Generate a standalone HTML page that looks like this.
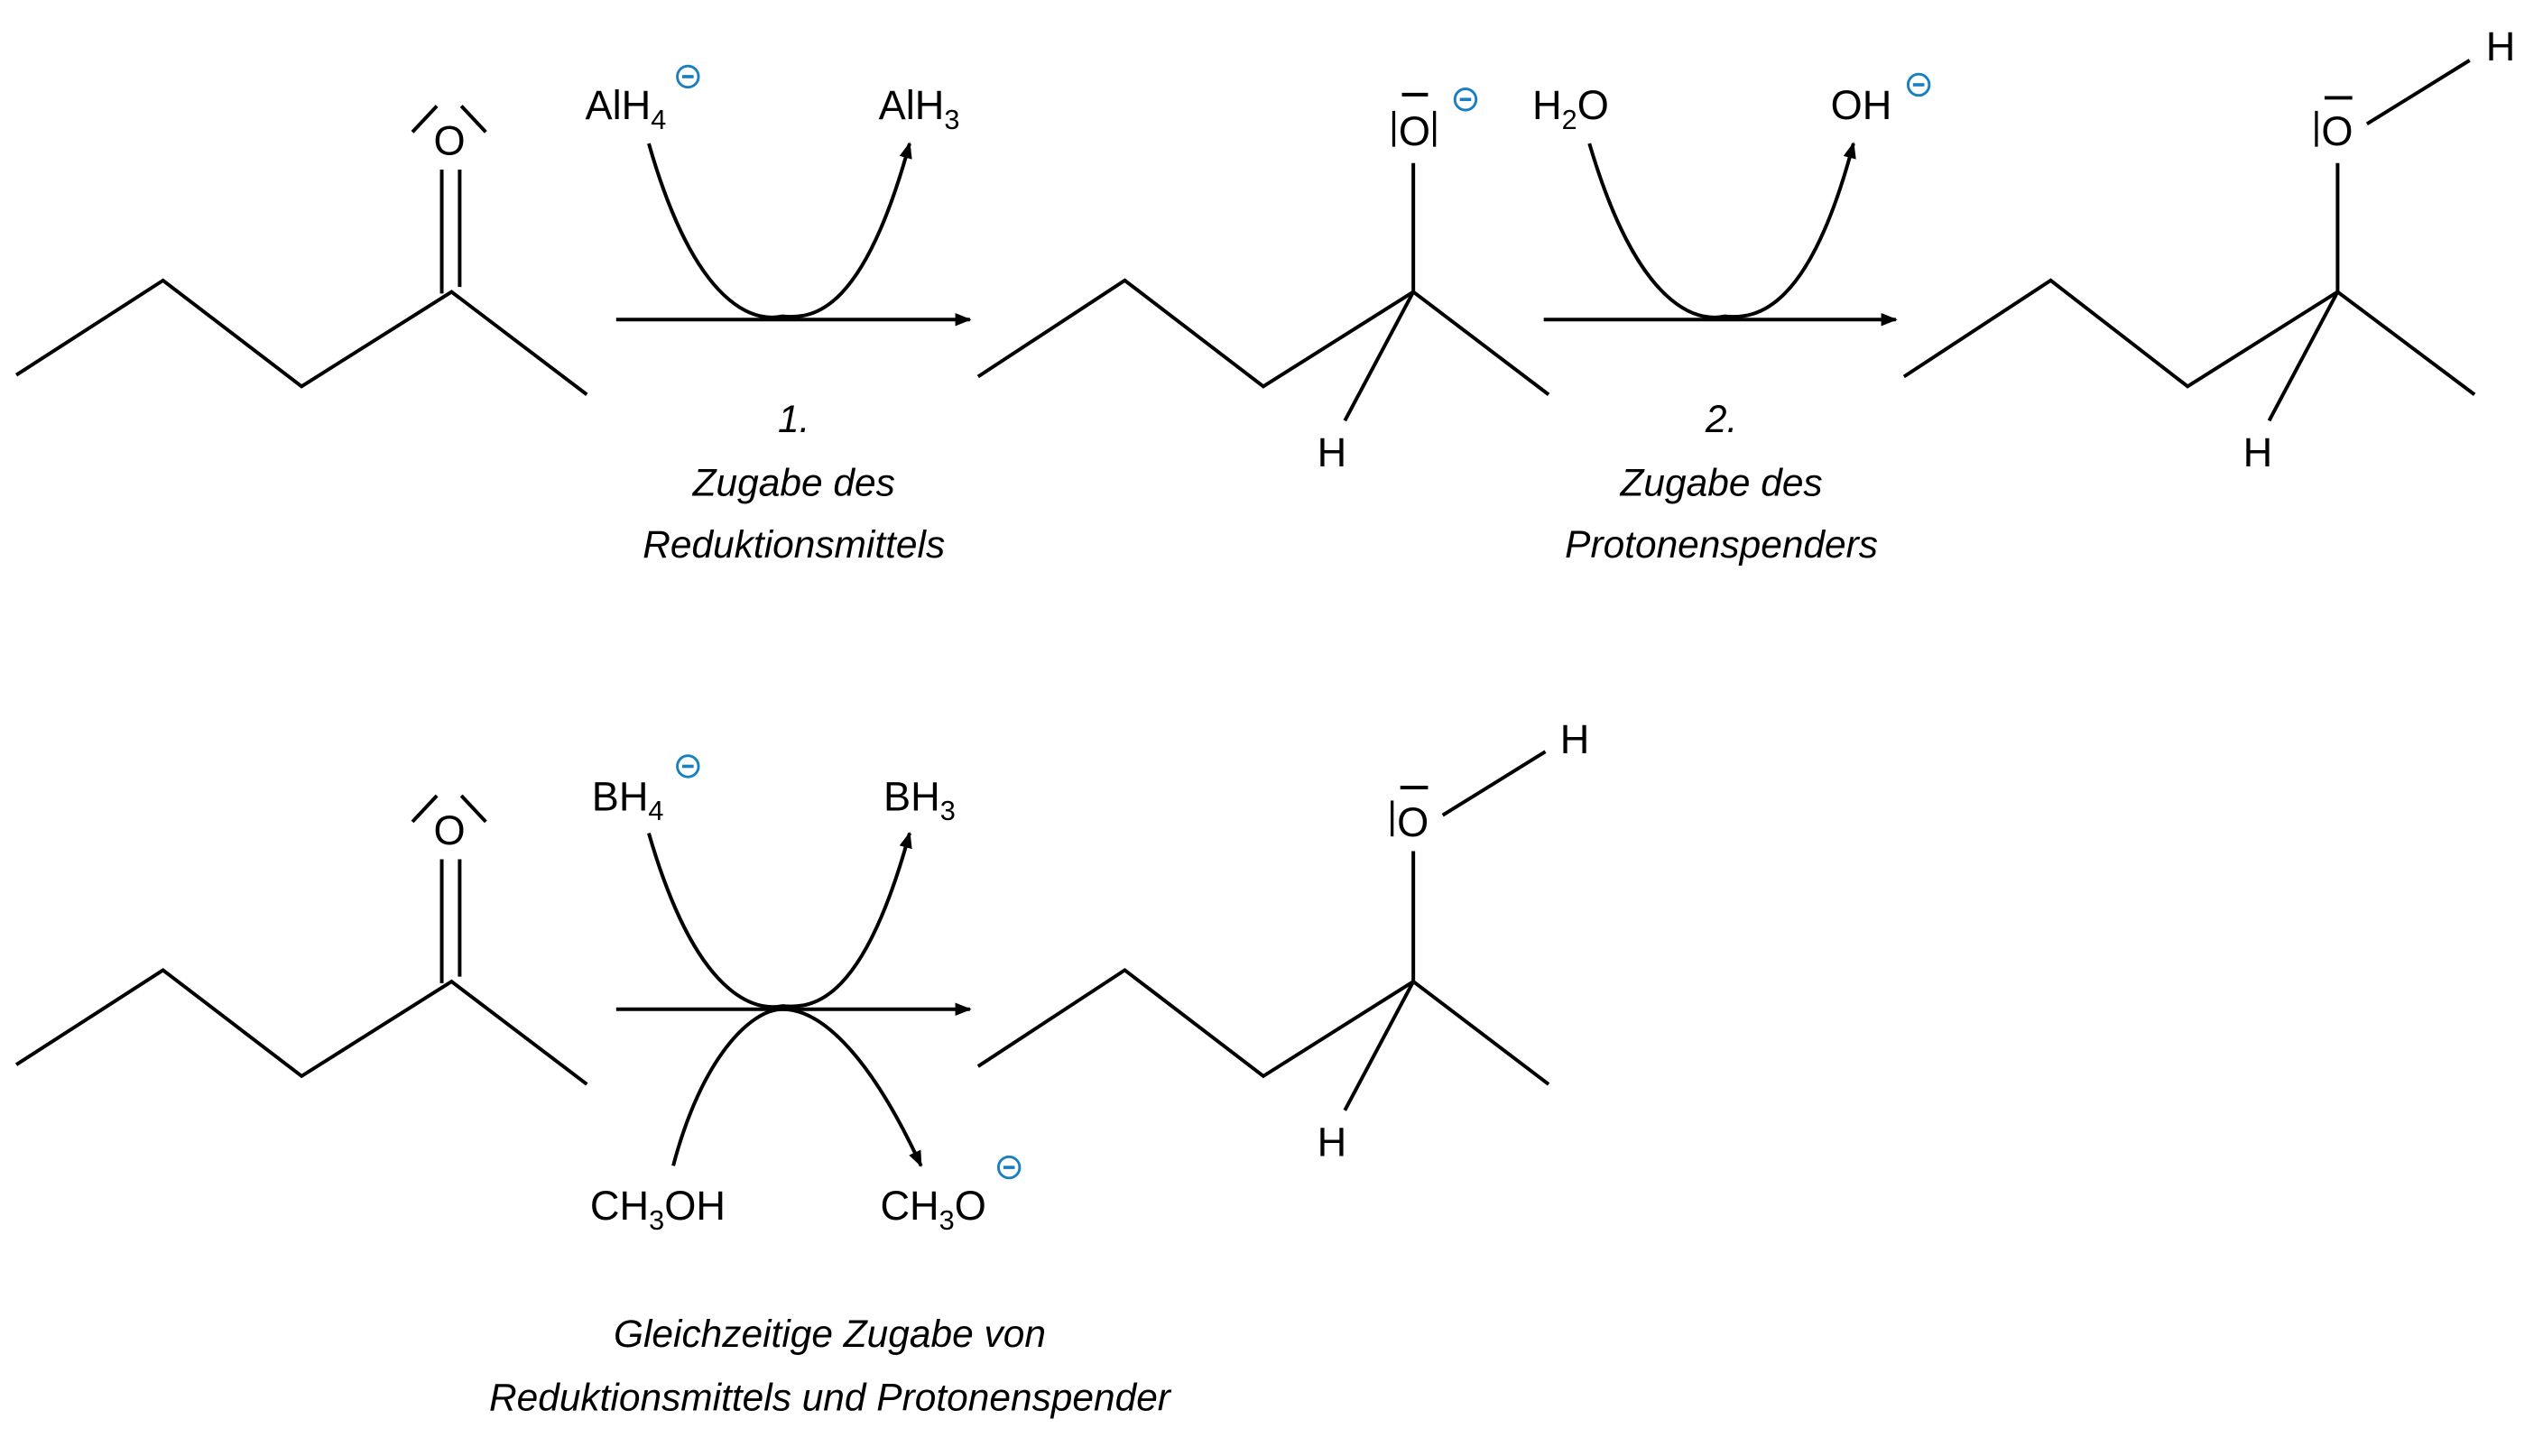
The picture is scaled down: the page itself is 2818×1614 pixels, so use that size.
<!DOCTYPE html>
<html><head><meta charset="utf-8">
<style>
html,body{margin:0;padding:0;background:#fff;}
svg{display:block;}
text{font-family:"Liberation Sans",sans-serif;fill:#000;}
.it{font-style:italic;font-size:23.5px;text-anchor:middle;}
.at{font-size:25px;}
.sub{font-size:17px;}
.min{fill:none;stroke:#1a7fc1;stroke-width:1.6;}
</style></head><body>
<svg width="2818" height="1614" viewBox="0 0 1560 893" preserveAspectRatio="none" xmlns="http://www.w3.org/2000/svg">
<defs>
<marker id="ah" markerWidth="10" markerHeight="8" refX="9" refY="4" orient="auto" markerUnits="userSpaceOnUse">
<path d="M0,0 L10,4 L0,8 z" fill="#000"/>
</marker>
<g id="minus"><circle cx="0" cy="0" r="6.5" class="min"/><line x1="-3.5" y1="0" x2="3.5" y2="0" stroke="#1a7fc1" stroke-width="2"/></g>
</defs>
<g fill="none" stroke="#000" stroke-width="2.2">
<polyline points="10,230 100,172 185,237 277,179 360,242"/>
<line x1="271" y1="104" x2="271" y2="180"/><line x1="282" y1="104" x2="282" y2="176"/>
<line x1="253" y1="81" x2="268" y2="65"/><line x1="283" y1="65" x2="298" y2="81"/>
<line x1="378" y1="196" x2="595" y2="196" marker-end="url(#ah)"/>
<path d="M398,88 C430,200 470,196 480,194 C500,196 530,190 558,88" marker-end="url(#ah)"/>
<polyline points="600,231 690,172 775,237 867,179 950,242"/>
<line x1="867" y1="179" x2="867" y2="100"/>
<line x1="867" y1="179" x2="825" y2="258"/>
<line x1="860" y1="58" x2="876" y2="58"/>
<line x1="855" y1="68" x2="855" y2="90" stroke-width="1.8"/><line x1="880" y1="68" x2="880" y2="90" stroke-width="1.8"/>
<line x1="947" y1="196" x2="1163" y2="196" marker-end="url(#ah)"/>
<path d="M975,88 C1008,200 1048,196 1058,194 C1078,196 1110,190 1137,88" marker-end="url(#ah)"/>
<polyline points="1168,231 1258,172 1342,237 1434,179 1518,242"/>
<line x1="1434" y1="179" x2="1434" y2="100"/>
<line x1="1434" y1="179" x2="1392" y2="258"/>
<line x1="1426" y1="60" x2="1443" y2="60"/>
<line x1="1421" y1="68" x2="1421" y2="90" stroke-width="1.8"/>
<line x1="1452" y1="76" x2="1515" y2="37"/>
<polyline points="10,653 100,595 185,660 277,602 360,665"/>
<line x1="271" y1="527" x2="271" y2="603"/><line x1="282" y1="527" x2="282" y2="599"/>
<line x1="253" y1="504" x2="268" y2="488"/><line x1="283" y1="488" x2="298" y2="504"/>
<line x1="378" y1="619" x2="595" y2="619" marker-end="url(#ah)"/>
<path d="M398,511 C430,622 470,619 480,617 C500,619 530,613 558,511" marker-end="url(#ah)"/>
<path d="M413,715 C430,650 460,619 480,619 C505,619 535,650 565,715" marker-end="url(#ah)"/>
<polyline points="600,654 690,595 775,660 867,602 950,665"/>
<line x1="867" y1="602" x2="867" y2="522"/>
<line x1="867" y1="602" x2="825" y2="681"/>
<line x1="859" y1="483" x2="876" y2="483"/>
<line x1="854" y1="491" x2="854" y2="513" stroke-width="1.8"/>
<line x1="885" y1="500" x2="948" y2="461"/>
</g>
<text class="at" x="266" y="95">O</text>
<text class="at" x="359" y="73">AlH<tspan class="sub" dy="6">4</tspan></text>
<use href="#minus" x="422" y="47"/>
<text class="at" x="539" y="73">AlH<tspan class="sub" dy="6">3</tspan></text>
<text class="it" x="487" y="265">1.</text>
<text class="it" x="487" y="304">Zugabe des</text>
<text class="it" x="487" y="342">Reduktionsmittels</text>
<text class="at" x="858" y="89">O</text>
<use href="#minus" x="899" y="61"/>
<text class="at" x="808" y="286">H</text>
<text class="at" x="940" y="73">H<tspan class="sub" dy="6">2</tspan><tspan dy="-6">O</tspan></text>
<text class="at" x="1123" y="73">OH</text>
<use href="#minus" x="1177" y="52"/>
<text class="it" x="1056" y="265">2.</text>
<text class="it" x="1056" y="304">Zugabe des</text>
<text class="it" x="1056" y="342">Protonenspenders</text>
<text class="at" x="1424" y="89">O</text>
<text class="at" x="1376" y="286">H</text>
<text class="at" x="1525" y="37">H</text>
<text class="at" x="266" y="518">O</text>
<text class="at" x="363" y="497">BH<tspan class="sub" dy="6">4</tspan></text>
<use href="#minus" x="422" y="470"/>
<text class="at" x="542" y="497">BH<tspan class="sub" dy="6">3</tspan></text>
<text class="at" x="362" y="748">CH<tspan class="sub" dy="6">3</tspan><tspan dy="-6">OH</tspan></text>
<text class="at" x="540" y="748">CH<tspan class="sub" dy="6">3</tspan><tspan dy="-6">O</tspan></text>
<use href="#minus" x="619" y="716"/>
<text class="it" x="509" y="826">Gleichzeitige Zugabe von</text>
<text class="it" x="509" y="865">Reduktionsmittels und Protonenspender</text>
<text class="at" x="857" y="513">O</text>
<text class="at" x="808" y="709">H</text>
<text class="at" x="957" y="462">H</text>
</svg>
</body></html>
